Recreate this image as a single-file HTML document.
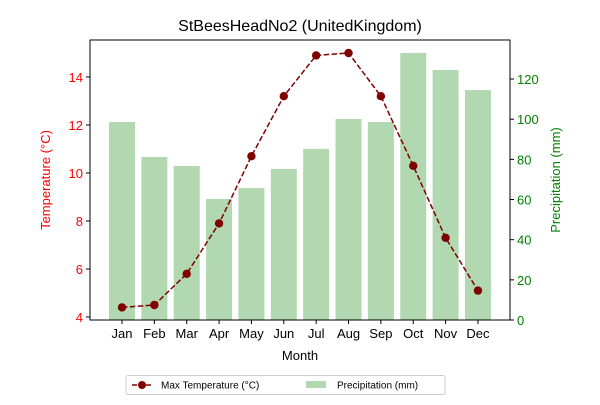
<!DOCTYPE html>
<html><head><meta charset="utf-8"><style>
body{margin:0;background:#fff;font-family:"Liberation Sans","DejaVu Sans",sans-serif}
svg text{font-family:"Liberation Sans","DejaVu Sans",sans-serif}
</style></head><body>
<svg id="c" width="600" height="400"></svg>
<script>
const months=["Jan","Feb","Mar","Apr","May","Jun","Jul","Aug","Sep","Oct","Nov","Dec"];
const maxTemp=[4.4,4.5,5.8,7.9,10.7,13.2,14.9,15.0,13.2,10.3,7.3,5.1];
const precip=[98.6,81.2,76.7,60.3,65.7,75.2,85.2,100.1,98.6,133,124.5,114.5];
const leftTicks=[4,6,8,10,12,14];
const rightTicks=[0,20,40,60,80,100,120];
const NS="http://www.w3.org/2000/svg";
const svg=document.getElementById('c');
const L=90,R=510,T=40,B=320;
const x=i=>122+i*32.36;
const yl=v=>317-(v-4)*24;
const yr=v=>320-v*2.008;
function mk(tag,attrs,txt){const e=document.createElementNS(NS,tag);for(const k in attrs)e.setAttribute(k,attrs[k]);if(txt!=null)e.textContent=txt;svg.appendChild(e);return e;}
precip.forEach((v,i)=>{const b=mk('rect',{x:x(i)-13,y:yr(v),width:26,height:320-yr(v),fill:'#b1d8b1'});

});
let d=maxTemp.map((v,i)=>(i?'L':'M')+x(i)+' '+yl(v)).join(' ');
const ln=mk('path',{d:d,fill:'none',stroke:'#800000','stroke-width':1.5,'stroke-dasharray':'5.5,2.4'});


maxTemp.forEach((v,i)=>{const p=mk('circle',{cx:x(i),cy:yl(v),r:4.2,fill:'#800000'});

});
mk('rect',{x:L,y:T,width:R-L,height:B-T,fill:'none',stroke:'#000','stroke-width':1});
months.forEach((m,i)=>{mk('line',{x1:x(i),x2:x(i),y1:B,y2:B+4,stroke:'#000'});
const t=mk('text',{x:x(i),y:B+18,'text-anchor':'middle','font-size':13},m);
});
leftTicks.forEach(v=>{mk('line',{x1:L-4,x2:L,y1:yl(v),y2:yl(v),stroke:'#000'});
const t=mk('text',{x:L-7,y:yl(v)+5,'text-anchor':'end','font-size':13,fill:'red'},v);
});
rightTicks.forEach(v=>{mk('line',{x1:R,x2:R+4,y1:yr(v),y2:yr(v),stroke:'#000'});
const t=mk('text',{x:R+7,y:yr(v)+5,'font-size':13,fill:'green'},v);
});
</script>
<svg width="600" height="400" style="position:absolute;left:0;top:0">
<text x="300" y="31" text-anchor="middle" font-size="16">StBeesHeadNo2 (UnitedKingdom)</text>
<text x="300" y="360" text-anchor="middle" font-size="13">Month</text>
<text transform="translate(50,180) rotate(-90)" text-anchor="middle" font-size="13" fill="red">Temperature (°C)</text>
<text transform="translate(560,180) rotate(-90)" text-anchor="middle" font-size="13" fill="green">Precipitation (mm)</text>
<g>
<rect x="126" y="375.5" width="319" height="19" rx="2" fill="#fff" stroke="#ccc"/>
<line x1="132" x2="152" y1="385" y2="385" stroke="#800000" stroke-width="1.5" stroke-dasharray="5,2"/>
<circle cx="142" cy="385" r="4" fill="#800000"/>
<text x="161" y="388.5" font-size="10">Max Temperature (°C)</text>
<rect x="306" y="381" width="20" height="7" fill="#b1d8b1"/>
<text x="337" y="388.5" font-size="10">Precipitation (mm)</text>
</g>
</svg>
</body></html>
